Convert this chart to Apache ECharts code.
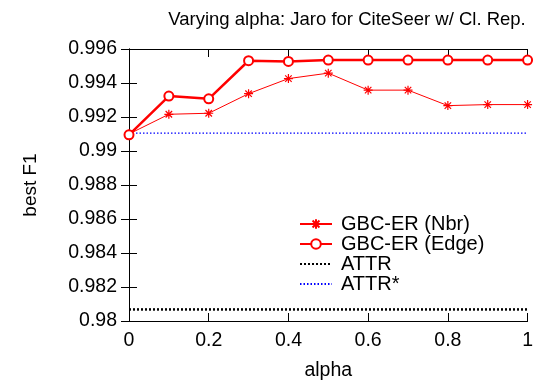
<!DOCTYPE html>
<html><head><meta charset="utf-8">
<script src="https://cdn.jsdelivr.net/npm/echarts@6/dist/echarts.min.js"></script>
<style>html,body{margin:0;padding:0;background:#fff}#c{width:536px;height:386px}</style>
</head><body><div id="c"></div>
<script>
var alphas = [0, 0.1, 0.2, 0.3, 0.4, 0.5, 0.6, 0.7, 0.8, 0.9, 1.0];
var nbr = [0.99100, 0.99216, 0.99222, 0.99337, 0.99426, 0.99458, 0.99358, 0.99358, 0.99267, 0.99273, 0.99273];
var edge = [0.99095, 0.99323, 0.99307, 0.99531, 0.99527, 0.99535, 0.99535, 0.99535, 0.99535, 0.99535, 0.99535];
var attr = 0.98068;
var attrStar = 0.99105;
var xRange = [0, 1];
var seriesNames = ['GBC-ER (Nbr)', 'GBC-ER (Edge)', 'ATTR', 'ATTR*'];

function pairs(xs, ys){ return xs.map(function(x,i){ return [x, ys[i]]; }); }
var font = 'Liberation Sans, Arial, sans-serif';
var asterisk = 'path://M0,-5L0,5M-5,0L5,0M-3.6,-3.6L3.6,3.6M-3.6,3.6L3.6,-3.6';

var chart = echarts.init(document.getElementById('c'), null, {renderer:'canvas'});
var axisCommon = {
  axisLine:{show:true, lineStyle:{color:'#000', width:1}},
  axisTick:{show:true, inside:true, length:8, lineStyle:{color:'#000'}},
  splitLine:{show:false}
};
chart.setOption({
  animation:false,
  title:{text:'Varying alpha: Jaro for CiteSeer w/ Cl. Rep.', left:342, textAlign:'center', top:5,
    textStyle:{fontFamily:font, fontSize:18.5, fontWeight:'normal', color:'#000'}},
  grid:{left:129, right:6, top:49, bottom:64},
  legend:{orient:'vertical', left:294, top:209, itemWidth:32, itemHeight:12, itemGap:0,
    data:[
      {name:seriesNames[0]},
      {name:seriesNames[1]},
      {name:seriesNames[2], itemStyle:{opacity:0}},
      {name:seriesNames[3], itemStyle:{opacity:0}}
    ],
    textStyle:{fontFamily:font, fontSize:20, color:'#000', lineHeight:20, padding:[0,0,0,4]}},
  xAxis:[
    Object.assign({type:'value', min:xRange[0], max:xRange[1], interval:0.2, position:'bottom',
      name:'alpha', nameLocation:'middle', nameGap:40,
      nameTextStyle:{fontFamily:font, fontSize:19.5, color:'#000'},
      axisLabel:{fontFamily:font, fontSize:19.5, color:'#000', margin:10}}, axisCommon),
    Object.assign({type:'value', min:xRange[0], max:xRange[1], interval:0.2, position:'top',
      axisLabel:{show:false}}, axisCommon)
  ],
  yAxis:[
    Object.assign({type:'value', min:0.98, max:0.996, interval:0.002, position:'left',
      name:'best F1', nameLocation:'middle', nameGap:89, nameRotate:90,
      nameTextStyle:{fontFamily:font, fontSize:19, color:'#000'},
      axisLabel:{fontFamily:font, fontSize:19.5, color:'#000', margin:12}}, axisCommon),
    Object.assign({type:'value', min:0.98, max:0.996, interval:0.002, position:'right',
      axisLabel:{show:false}}, axisCommon)
  ],
  series:[
    {name:seriesNames[0], type:'line', data:pairs(alphas, nbr), symbol:asterisk, symbolSize:9,
      lineStyle:{color:'#ff0000', width:1},
      itemStyle:{color:'#ff0000', borderColor:'#ff0000', borderWidth:1.2}, z:4},
    {name:seriesNames[1], type:'line', data:pairs(alphas, edge), symbol:'emptyCircle', symbolSize:9,
      lineStyle:{color:'#ff0000', width:2.5},
      itemStyle:{color:'#ff0000', borderColor:'#ff0000', borderWidth:2}, z:5},
    {name:seriesNames[2], type:'line', data:pairs(xRange, [attr, attr]), symbol:'none',
      lineStyle:{color:'#000', width:2.5, type:[2,2]}, itemStyle:{color:'#000'}, z:3},
    {name:seriesNames[3], type:'line', data:pairs(xRange, [attrStar, attrStar]), symbol:'none',
      lineStyle:{color:'#0000ff', width:1.2, type:[1.5,2]}, itemStyle:{color:'#0000ff'}, z:3}
  ]
});
</script></body></html>
